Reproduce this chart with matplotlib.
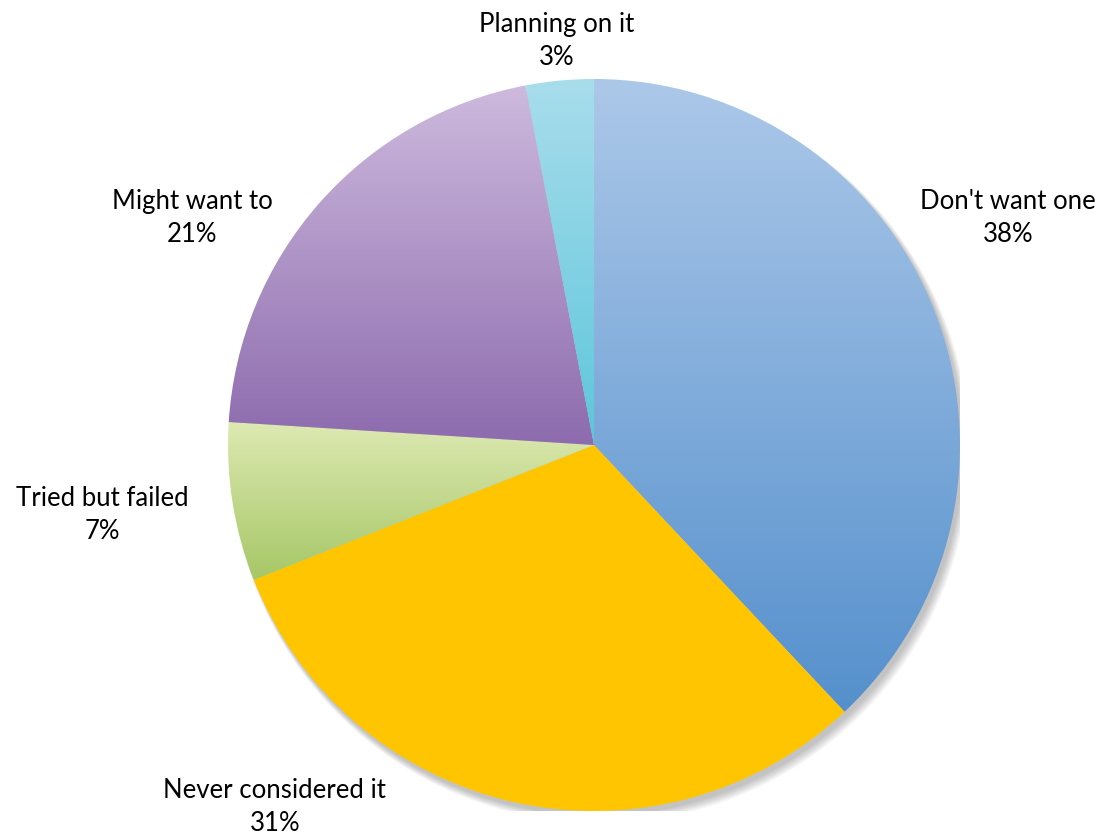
import numpy as np
import matplotlib.pyplot as plt
from matplotlib.patches import Circle
from matplotlib.colors import LinearSegmentedColormap

# survey answers, clockwise from 12 o'clock
labels = ["Don't want one", "Never considered it", "Tried but failed", "Might want to", "Planning on it"]
shares = [38, 31, 7, 21, 3]

# gradient colours per slice (top -> bottom)
top_colors = ["#acc8e9", "#ffc600", "#dde9b2", "#cdbadd", "#a9ddec"]
bottom_colors = ["#5590cc", "#ffc600", "#a6c766", "#8d6bae", "#5cc6db"]

# label anchor (x, y) in data units, Excel "best fit" style
label_pos = [(1.131, 0.620), (-0.872, -0.990), (-1.344, -0.191), (-1.098, 0.620), (-0.101, 1.104)]

fig = plt.figure(figsize=(11.04, 8.38), dpi=100)
cx, cy, r = 594, 445, 366
ax = fig.add_axes([(cx - r) / 1104, (838 - cy - r) / 838, 2 * r / 1104, 2 * r / 838])
ax.set_xlim(-1, 1)
ax.set_ylim(-1, 1)
ax.set_aspect("equal")
ax.axis("off")

# soft drop shadow to the lower right
for k in range(8):
    sh = Circle((0.008 + k * 0.0012, -0.012 - k * 0.0015), 1.0 + k * 0.0015,
                color="black", alpha=0.03, lw=0, zorder=0)
    ax.add_patch(sh)

wedges, _ = ax.pie(shares, startangle=90, counterclock=False, radius=1.0,
                   wedgeprops=dict(linewidth=0))

for w, c0, c1 in zip(wedges, top_colors, bottom_colors):
    w.set_facecolor("none")
    w.set_zorder(1)
    # vertical extent of this slice
    th = np.radians(np.linspace(w.theta1, w.theta2, 200))
    ys = np.concatenate([np.sin(th), [0.0]])
    y0, y1 = ys.min(), ys.max()
    cmap = LinearSegmentedColormap.from_list("g", [c1, c0])
    grad = np.linspace(0, 1, 256).reshape(-1, 1)
    im = ax.imshow(grad, cmap=cmap, origin="lower", aspect="auto",
                   extent=[-1.05, 1.05, y0, y1], zorder=2, interpolation="bilinear")
    im.set_clip_path(w)

ax.set_xlim(-1, 1)
ax.set_ylim(-1, 1)

for lab, s, (x, y) in zip(labels, shares, label_pos):
    ax.text(x, y, f"{lab}\n{s}%", ha="center", va="center", fontsize=18.5,
            family="Lato", linespacing=1.4, clip_on=False, zorder=5)

fig.savefig("out.png", dpi=100, facecolor="white")
